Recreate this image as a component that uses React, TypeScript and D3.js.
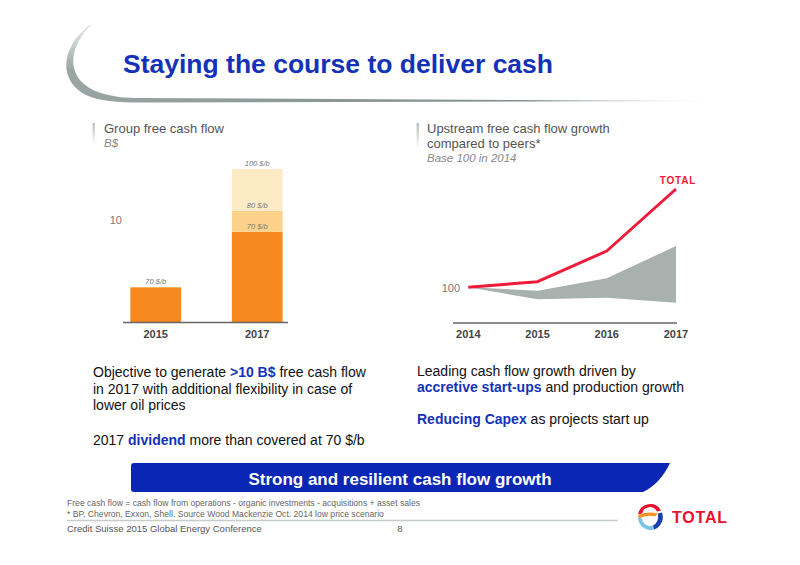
import * as d3 from "d3";

// Group free cash flow (B$), 2017 stacked by oil price scenario
const barYears = ["2015", "2017"];
const fcfAt70 = [3.4, 8.85];
const extraAt80 = [0, 2.05];
const extraAt100 = [0, 4.1];
const barLabels = [["70 $/b"], ["70 $/b", "80 $/b", "100 $/b"]];

// Upstream FCF growth, base 100 in 2014
const lineYears = ["2014", "2015", "2016", "2017"];
const totalIndex = [100, 105.6, 136.3, 198.3];
const peersHigh = [100, 96.6, 109, 141.3];
const peersLow = [100, 88, 89.6, 84.6];

const FONT = "'Liberation Sans', Arial, Helvetica, sans-serif";
const BLUE = "#1432b8";
const RED = "#ee1c3a";
const segColors = ["#f7891f", "#fcd28a", "#fdebc6"];

export default function App() {
  // bar chart scales
  const xBar = d3.scaleBand().domain(barYears).range([105, 308]).paddingInner(0.5).paddingOuter(0.25);
  const yBar = d3.scaleLinear().domain([0, 10]).range([322, 220]);
  const stackRows = barYears.map((yr, i) => ({ year: yr, a: fcfAt70[i], b: extraAt80[i], c: extraAt100[i] }));
  const series = d3.stack<any>().keys(["a", "b", "c"])(stackRows);

  // line chart scales
  const xLine = d3.scalePoint().domain(lineYears).range([468.3, 676]);
  const yLine = d3.scaleLinear().domain([100, 200]).range([287.3, 187.3]);
  const band = d3.area<number>()
    .x((_, i) => xLine(lineYears[i])!)
    .y0((_, i) => yLine(peersLow[i]))
    .y1((_, i) => yLine(peersHigh[i]));
  const totalLine = d3.line<number>().x((_, i) => xLine(lineYears[i])!).y((v) => yLine(v));

  const body = { fontFamily: FONT, fontSize: 14, fill: "#111" } as const;

  return (
    <svg width={800} height={565} style={{ position: "absolute", left: 0, top: 0, background: "#fff" }}>
      <defs>
        <linearGradient id="hdr" x1="60" y1="0" x2="728" y2="0" gradientUnits="userSpaceOnUse">
          <stop offset="0" stopColor="#9aa6a4" />
          <stop offset="0.7" stopColor="#7f8d8b" />
          <stop offset="1" stopColor="#ffffff" />
        </linearGradient>
        <linearGradient id="arcFade" x1="0" y1="24" x2="0" y2="100" gradientUnits="userSpaceOnUse">
          <stop offset="0" stopColor="#ffffff" stopOpacity="0.85" />
          <stop offset="0.6" stopColor="#ffffff" stopOpacity="0" />
        </linearGradient>
        <linearGradient id="tick" x1="0" y1="0" x2="0" y2="1">
          <stop offset="0" stopColor="#b8c0be" />
          <stop offset="1" stopColor="#ffffff" />
        </linearGradient>
      </defs>

      {/* header swoosh */}
      <path
        d="M92,24 C70,44 62,78 98,92 C112,97 126,98 140,98 L725,101 L140,102.5 C118,102.5 98,101 86,95 C56,80 62,44 92,24 Z"
        fill="url(#hdr)"
      />
      <path d="M92,24 C70,44 62,78 98,92 L86,95 C56,80 62,44 92,24 Z" fill="url(#arcFade)" />
      <text x={123} y={72.5} fontFamily={FONT} fontSize={26.5} fontWeight="bold" fill={BLUE}>
        Staying the course to deliver cash
      </text>

      {/* left panel header */}
      <rect x={92.5} y={123} width={2.5} height={22} fill="url(#tick)" />
      <text x={104} y={133} fontFamily={FONT} fontSize={13} fill="#555">Group free cash flow</text>
      <text x={104} y={146.5} fontFamily={FONT} fontSize={11.5} fontStyle="italic" fill="#888">B$</text>

      {/* bars */}
      {series.map((s, si) =>
        s.map((d, i) =>
          d[1] - d[0] > 0 ? (
            <rect key={`${si}-${i}`} x={xBar(barYears[i])} width={xBar.bandwidth()}
              y={yBar(d[1])} height={yBar(d[0]) - yBar(d[1])} fill={segColors[si]} />
          ) : null
        )
      )}
      {series.map((s, si) =>
        s.map((d, i) =>
          d[1] - d[0] > 0 ? (
            <text key={`l${si}-${i}`} x={xBar(barYears[i])! + xBar.bandwidth() / 2} y={yBar(d[1]) - 3}
              textAnchor="middle" fontFamily={FONT} fontSize={7.5} fontStyle="italic" fill="#777">
              {barLabels[i][si]}
            </text>
          ) : null
        )
      )}
      <text x={122} y={yBar(10) + 3.5} textAnchor="end" fontFamily={FONT} fontSize={11} fill="#777">10</text>
      <line x1={123} x2={288} y1={yBar(0) + 0.5} y2={yBar(0) + 0.5} stroke="#666" strokeWidth={1.5} />
      {barYears.map((yr) => (
        <text key={yr} x={xBar(yr)! + xBar.bandwidth() / 2} y={337.5} textAnchor="middle"
          fontFamily={FONT} fontSize={11} fontWeight="bold" fill="#444">{yr}</text>
      ))}

      {/* right panel header */}
      <rect x={416.5} y={123} width={2.5} height={26} fill="url(#tick)" />
      <text x={427} y={133} fontFamily={FONT} fontSize={13} fill="#555">Upstream free cash flow growth</text>
      <text x={427} y={148} fontFamily={FONT} fontSize={13} fill="#555">compared to peers*</text>
      <text x={427} y={162} fontFamily={FONT} fontSize={11.5} fontStyle="italic" fill="#888">Base 100 in 2014</text>

      {/* peers band and TOTAL line */}
      <path d={band(totalIndex)!} fill="#a9b1ae" />
      <path d={totalLine(totalIndex)!} fill="none" stroke={RED} strokeWidth={3} strokeLinejoin="round" />
      <text x={678} y={184} textAnchor="middle" fontFamily={FONT} fontSize={10} fontWeight="bold" fill={RED}
        letterSpacing={0.8}>TOTAL</text>
      <text x={460} y={yLine(100) + 4.5} textAnchor="end" fontFamily={FONT} fontSize={11} fill="#777">100</text>
      <line x1={453} x2={677} y1={323} y2={323} stroke="#666" strokeWidth={1.5} />
      {lineYears.map((yr) => (
        <text key={yr} x={xLine(yr)} y={337.5} textAnchor="middle"
          fontFamily={FONT} fontSize={11} fontWeight="bold" fill="#444">{yr}</text>
      ))}

      {/* commentary */}
      <text x={93} y={377} {...body}>
        Objective to generate <tspan fill={BLUE} fontWeight="bold">&gt;10 B$</tspan> free cash flow
      </text>
      <text x={93} y={393.5} {...body}>in 2017 with additional flexibility in case of</text>
      <text x={93} y={410} {...body}>lower oil prices</text>
      <text x={93} y={444.5} {...body}>
        2017 <tspan fill={BLUE} fontWeight="bold">dividend</tspan> more than covered at 70 $/b
      </text>

      <text x={417} y={375.5} {...body}>Leading cash flow growth driven by</text>
      <text x={417} y={392} {...body}>
        <tspan fill={BLUE} fontWeight="bold">accretive start-ups</tspan> and production growth
      </text>
      <text x={417} y={424} {...body}>
        <tspan fill={BLUE} fontWeight="bold">Reducing Capex</tspan> as projects start up
      </text>

      {/* banner */}
      <path d="M134,463 L670,463 Q660,484 643,492 L134,492 Q131,492 131,489 L131,466 Q131,463 134,463 Z" fill="#0a26b4" />
      <text x={400} y={484.5} textAnchor="middle" fontFamily={FONT} fontSize={17} fontWeight="bold" fill="#fff">
        Strong and resilient cash flow growth
      </text>

      {/* footnotes */}
      <text x={67} y={506} fontFamily={FONT} fontSize={8.6} fill="#666">
        Free cash flow = cash flow from operations - organic investments - acquisitions + asset sales
      </text>
      <text x={67} y={516.5} fontFamily={FONT} fontSize={8.6} fill="#666">
        * BP, Chevron, Exxon, Shell. Source Wood Mackenzie Oct. 2014 low price scenario
      </text>
      <line x1={67} x2={618} y1={520.5} y2={520.5} stroke="#c5cccb" strokeWidth={1.5} />
      <text x={67} y={531.5} fontFamily={FONT} fontSize={9.5} fill="#555">Credit Suisse 2015 Global Energy Conference</text>
      <text x={400} y={531.5} textAnchor="middle" fontFamily={FONT} fontSize={9.5} fill="#555">8</text>

      {/* TOTAL logo */}
      <g transform="translate(650,516.5)">
        <path d="M-12,-2 A12.5,13 0 0 1 11,-6 L7,-5 A8,8 0 0 0 -8,-3 Z" fill="#e8102e" />
        <path d="M-12,-1 Q-4,-6 8,-3 L5,0 Q-3,-2 -11,2 Z" fill="#f7931e" />
        <path d="M-12,1 A12.5,13 0 0 0 4,13 L3,9 A8,8 0 0 1 -8,2 Z" fill="#7cc2ea" />
        <path d="M4,13 A12.5,13 0 0 0 12,-4 L8,-3 Q9,6 3,9 Z" fill="#1b3fae" />
      </g>
      <text x={672} y={523} fontFamily={FONT} fontSize={16} fontWeight="bold" fill="#e8102e" letterSpacing={0.8}>
        TOTAL
      </text>
    </svg>
  );
}
